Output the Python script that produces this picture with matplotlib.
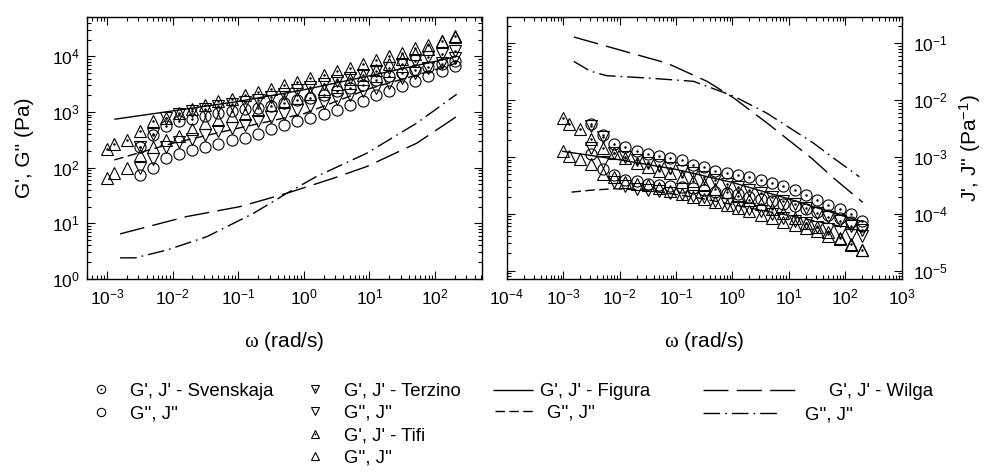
import matplotlib
matplotlib.use("Agg")
import matplotlib.pyplot as plt
from matplotlib.legend_handler import HandlerTuple
from matplotlib.ticker import FixedLocator, LogLocator, NullFormatter

plt.rcParams['font.family'] = ['Liberation Sans', 'DejaVu Sans']
plt.rcParams['mathtext.fontset'] = 'custom'
plt.rcParams['mathtext.rm'] = 'Liberation Sans'
plt.rcParams['mathtext.it'] = 'Liberation Sans:italic'
plt.rcParams['mathtext.bf'] = 'Liberation Sans:bold'
plt.rcParams['mathtext.sf'] = 'Liberation Serif'
plt.rcParams['mathtext.default'] = 'regular'

# ---------------- data ----------------
OMEGA = [0.001, 0.00126, 0.002, 0.00316, 0.005, 0.00794, 0.0126, 0.02, 0.0316,
         0.05, 0.0794, 0.126, 0.2, 0.316, 0.5, 0.794, 1.26, 2.0, 3.16, 5.0,
         7.94, 12.6, 20.0, 31.6, 50.0, 79.4, 126.0, 200.0]
OMEGA_S = OMEGA[3:]   # Svenskaja and Terzino start at 3.16e-3 rad/s

# major tick positions
L_XTICKS = [1e-3, 1e-2, 1e-1, 1e0, 1e1, 1e2]
L_YTICKS = [1e0, 1e1, 1e2, 1e3, 1e4]
R_XTICKS = [1e-4, 1e-3, 1e-2, 1e-1, 1e0, 1e1, 1e2, 1e3]
R_YTICKS = [1e-5, 1e-4, 1e-3, 1e-2, 1e-1]

# left panel: moduli (Pa)
svenskaja_Gp = [240, 389, 550, 676, 759, 851, 955, 1047, 1122, 1202, 1288, 1445, 1660,
                1778, 2042, 2344, 2692, 3090, 3715, 4365, 5012, 5754, 6457, 7244, 8128]
svenskaja_Gpp = [74.1, 100, 151, 174, 209, 234, 269, 316, 347, 407, 490, 589, 676, 776,
                 912, 1096, 1349, 1585, 1995, 2399, 2884, 3631, 4365, 5370, 6607]
terzino_Gp = [240, 398, 776, 933, 1047, 1148, 1259, 1380, 1514, 1660, 1862, 2138, 2455,
              2818, 3162, 3548, 4074, 4677, 5370, 6166, 7244, 8318, 9550, 10960, 12590]
terzino_Gpp = [97.7, 145, 240, 295, 324, 389, 447, 513, 589, 676, 813, 912, 1096, 1259,
               1445, 1698, 1995, 2344, 2754, 3311, 4074, 5012, 6166, 7586, 9333]
tifi_Gp = [214, 263, 316, 457, 676, 794, 977, 1122, 1318, 1549, 1698, 2042, 2291, 2570,
           3090, 3467, 4074, 4677, 5370, 6310, 7244, 8710, 10000, 11480, 14130, 16220,
           19050, 22910]
tifi_Gpp = [64.6, 79.4, 100, 170, 234, 316, 372, 490, 631, 724, 832, 933, 1072, 1318,
            1549, 1820, 2138, 2630, 3236, 3981, 4677, 5754, 7413, 9120, 10960, 13800,
            18620, 22390]

figura_w = [0.00129, 0.01, 0.1, 1.0, 10.0, 100.0, 214.0]
figura_Gp = [741, 1047, 1549, 2512, 4467, 8128, 10000]
figura_Gpp = [138, 275, 513, 933, 2630, 5754, 7586]

wilga_Gp_w = [0.00158, 0.0162, 0.107, 0.55, 2.82, 9.12, 52.5, 214.0]
wilga_Gp = [6.46, 13.2, 20.0, 34.7, 64.6, 105, 275, 832]
wilga_Gpp_w = [0.00158, 0.00269, 0.00813, 0.0331, 0.170, 0.550, 1.55, 9.12, 52.5, 214.0]
wilga_Gpp = [2.40, 2.40, 3.31, 5.75, 15.1, 34.7, 69.2, 182, 631, 2089]

# right panel: compliances (1/Pa)
svenskaja_Jp = [3.80e-3, 2.45e-3, 1.70e-3, 1.51e-3, 1.26e-3, 1.12e-3, 1.05e-3, 9.55e-4,
                8.71e-4, 7.24e-4, 6.76e-4, 5.75e-4, 5.13e-4, 4.79e-4, 4.37e-4, 3.98e-4,
                3.47e-4, 3.02e-4, 2.57e-4, 2.14e-4, 1.74e-4, 1.445e-4, 1.20e-4, 9.77e-5,
                7.59e-5]
svenskaja_Jpp = [1.12e-3, 6.03e-4, 4.79e-4, 3.98e-4, 3.72e-4, 3.39e-4, 3.24e-4, 3.02e-4,
                 2.95e-4, 2.82e-4, 2.63e-4, 2.45e-4, 2.34e-4, 2.19e-4, 2.00e-4, 1.82e-4,
                 1.66e-4, 1.48e-4, 1.35e-4, 1.20e-4, 1.07e-4, 9.55e-5, 8.32e-5, 7.08e-5,
                 6.03e-5]
terzino_Jp = [3.55e-3, 2.24e-3, 1.175e-3, 9.77e-4, 8.71e-4, 7.76e-4, 7.08e-4, 6.31e-4,
              5.75e-4, 5.13e-4, 4.47e-4, 3.98e-4, 3.39e-4, 2.95e-4, 2.63e-4, 2.29e-4,
              2.00e-4, 1.70e-4, 1.48e-4, 1.26e-4, 1.05e-4, 8.91e-5, 7.41e-5, 6.17e-5,
              5.13e-5]
terzino_Jpp = [1.445e-3, 8.13e-4, 3.63e-4, 3.09e-4, 2.69e-4, 2.63e-4, 2.51e-4, 2.34e-4,
               2.24e-4, 2.09e-4, 1.95e-4, 1.70e-4, 1.51e-4, 1.32e-4, 1.20e-4, 1.096e-4,
               9.77e-5, 8.51e-5, 7.59e-5, 6.76e-5, 5.89e-5, 5.37e-5, 4.79e-5, 4.27e-5,
               3.98e-5]
tifi_Jp = [4.79e-3, 3.80e-3, 3.09e-3, 2.09e-3, 1.41e-3, 1.15e-3, 9.55e-4, 7.94e-4,
           6.61e-4, 5.62e-4, 5.13e-4, 4.37e-4, 3.80e-4, 3.31e-4, 2.75e-4, 2.40e-4,
           2.04e-4, 1.74e-4, 1.48e-4, 1.20e-4, 1.05e-4, 8.51e-5, 6.92e-5, 5.75e-5,
           4.68e-5, 3.80e-5, 2.95e-5, 2.34e-5]
tifi_Jpp = [1.29e-3, 1.05e-3, 9.12e-4, 7.41e-4, 5.01e-4, 4.37e-4, 3.55e-4, 3.31e-4,
            3.16e-4, 2.82e-4, 2.51e-4, 2.24e-4, 2.00e-4, 1.82e-4, 1.62e-4, 1.445e-4,
            1.26e-4, 1.096e-4, 9.55e-5, 8.32e-5, 7.24e-5, 6.31e-5, 5.50e-5, 4.90e-5,
            4.07e-5, 3.55e-5, 2.82e-5, 2.34e-5]

figura_Jp_w = [0.000955, 0.01, 0.1, 1.0, 10.0, 100.0, 204.0]
figura_Jp = [1.259e-3, 8.91e-4, 6.03e-4, 3.55e-4, 1.82e-4, 8.91e-5, 7.24e-5]
figura_Jpp_w = [0.00141, 0.00316, 0.00794, 0.0251, 0.1, 0.316, 1.0, 10.0, 100.0, 204.0]
figura_Jpp = [2.40e-4, 2.60e-4, 2.75e-4, 2.63e-4, 2.19e-4, 1.82e-4, 1.445e-4, 9.33e-5,
              5.75e-5, 4.79e-5]

wilga_Jp_w = [0.00155, 0.0155, 0.0692, 0.355, 1.047, 4.07, 25.1, 61.7, 204.0]
wilga_Jp = [0.1288, 0.0676, 0.0447, 0.0214, 0.01096, 3.98e-3, 9.55e-4, 4.27e-4, 1.585e-4]
wilga_Jpp_w = [0.00155, 0.00302, 0.00589, 0.0302, 0.204, 1.047, 4.07, 27.5, 61.7, 178.0]
wilga_Jpp = [0.0479, 0.0324, 0.0269, 0.0245, 0.0214, 0.01175, 5.89e-3, 1.74e-3,
             9.55e-4, 4.47e-4]

# ---------------- styles ----------------
MS = 8
MEW = 0.8
DOT_MS = 1.8
LW = 1.0
LONG = (18, 6)
DASHDOT = (12, 3.6, 1.2, 3.6)
SHORT = (6.8, 3.2)
FS_TICK = 12.5
FS_LABEL = 15
FS_LEG = 13.4

fig = plt.figure(figsize=(9.84, 4.75), dpi=100)
W, H = 984.0, 475.0
axL = fig.add_axes([87 / W, 1 - 279 / H, 395 / W, 262 / H])
axR = fig.add_axes([506.7 / W, 1 - 279 / H, 395 / W, 262 / H])


def open_marker(ax, x, y, m):
    return ax.plot(x, y, linestyle='none', marker=m, ms=MS, mfc='none', mec='black',
                   mew=MEW, zorder=3)[0]


def dotted_marker(ax, x, y, m):
    a = open_marker(ax, x, y, m)
    b = ax.plot(x, y, linestyle='none', marker='o', ms=DOT_MS, mfc='black', mec='black',
                mew=0, zorder=3)[0]
    return (a, b)


def line(ax, x, y, dashes=None):
    if dashes is None:
        return ax.plot(x, y, color='black', lw=LW, solid_capstyle='butt', zorder=2)[0]
    return ax.plot(x, y, color='black', lw=LW, dashes=dashes, dash_capstyle='butt',
                   zorder=2)[0]


# left panel
h_sv_p = dotted_marker(axL, OMEGA_S, svenskaja_Gp, 'o')
h_sv_pp = open_marker(axL, OMEGA_S, svenskaja_Gpp, 'o')
h_te_p = dotted_marker(axL, OMEGA_S, terzino_Gp, 'v')
h_te_pp = open_marker(axL, OMEGA_S, terzino_Gpp, 'v')
h_ti_p = dotted_marker(axL, OMEGA, tifi_Gp, '^')
h_ti_pp = open_marker(axL, OMEGA, tifi_Gpp, '^')
h_fi_p = line(axL, figura_w, figura_Gp)
h_fi_pp = line(axL, figura_w, figura_Gpp, SHORT)
h_wi_p = line(axL, wilga_Gp_w, wilga_Gp, LONG)
h_wi_pp = line(axL, wilga_Gpp_w, wilga_Gpp, DASHDOT)

# right panel
dotted_marker(axR, OMEGA_S, svenskaja_Jp, 'o')
open_marker(axR, OMEGA_S, svenskaja_Jpp, 'o')
dotted_marker(axR, OMEGA_S, terzino_Jp, 'v')
open_marker(axR, OMEGA_S, terzino_Jpp, 'v')
dotted_marker(axR, OMEGA, tifi_Jp, '^')
open_marker(axR, OMEGA, tifi_Jpp, '^')
line(axR, figura_Jp_w, figura_Jp)
line(axR, figura_Jpp_w, figura_Jpp, SHORT)
line(axR, wilga_Jp_w, wilga_Jp, LONG)
line(axR, wilga_Jpp_w, wilga_Jpp, DASHDOT)

axL.set_xscale('log')
axL.set_yscale('log')
axR.set_xscale('log')
axR.set_yscale('log')
axL.set_xlim(4.95e-4, 520)
axL.set_ylim(1, 5.1e4)
axR.set_xlim(1e-4, 1e3)
axR.set_ylim(7.1e-6, 0.29)

for ax, xt, yt in ((axL, L_XTICKS, L_YTICKS), (axR, R_XTICKS, R_YTICKS)):
    ax.xaxis.set_major_locator(FixedLocator(xt))
    ax.yaxis.set_major_locator(FixedLocator(yt))
    ax.xaxis.set_minor_locator(LogLocator(base=10, subs=range(2, 10), numticks=50))
    ax.yaxis.set_minor_locator(LogLocator(base=10, subs=range(2, 10), numticks=50))
    ax.xaxis.set_minor_formatter(NullFormatter())
    ax.yaxis.set_minor_formatter(NullFormatter())
    for s in ax.spines.values():
        s.set_linewidth(1.0)
    ax.tick_params(which='both', direction='in', top=True, right=True, left=True,
                   bottom=True, width=0.8, labelsize=FS_TICK)
    ax.tick_params(which='major', length=5.5)
    ax.tick_params(which='minor', length=3)
    ax.tick_params(axis='x', which='major', pad=6)

axL.tick_params(axis='y', which='major', pad=5)
axR.tick_params(axis='y', labelleft=False, labelright=True)
axR.tick_params(axis='y', which='major', pad=8)

axL.set_xlabel(r'$\mathsf{\omega}$ (rad/s)', fontsize=FS_LABEL)
axR.set_xlabel(r'$\mathsf{\omega}$ (rad/s)', fontsize=FS_LABEL)
for ax in (axL, axR):
    ax.xaxis.label.set_va('center')
    ax.xaxis.set_label_coords(0.5, (279 - 341.7) / 262)

axL.set_ylabel("G', G'' (Pa)", fontsize=FS_LABEL)
axL.yaxis.label.set_va('center')
axL.yaxis.set_label_coords((24 - 87) / 395, 0.5)

axR.yaxis.set_label_position('right')
axR.set_ylabel(r"J', J'' (Pa$^{-1}$)", fontsize=FS_LABEL, rotation=90)
axR.yaxis.label.set_va('center')
axR.yaxis.label.set_rotation_mode('anchor')
axR.yaxis.set_label_coords((970.5 - 506.7) / 395, 0.5)

# ---------------- legends ----------------
F_PX = FS_LEG * 100 / 72.0
common = dict(frameon=False, fontsize=FS_LEG, borderpad=0, borderaxespad=0,
              handler_map={tuple: HandlerTuple(ndivide=1)}, markerscale=0.75,
              labelspacing=0.27, loc='center left')


def add_leg(handles, labels, left_px, center_px, hl, pad):
    lg = fig.legend(handles, labels, bbox_to_anchor=(left_px / W, 1 - center_px / H),
                    handlelength=hl, handletextpad=pad, **common)
    return lg


hl_m = 1.0
pad_m = (130 - 101 - 0.5 * hl_m * F_PX) / F_PX
add_leg([h_sv_p, h_sv_pp], ["G', J' - Svenskaja", "G'', J''"],
        101 - 0.5 * hl_m * F_PX, 402.5, hl_m, pad_m)
add_leg([h_te_p, h_te_pp, h_ti_p, h_ti_pp],
        ["G', J' - Terzino", "G'', J''", "G', J' - Tifi", "G'', J''"],
        315 - 0.5 * hl_m * F_PX, 424.5, hl_m, pad_m)
add_leg([h_fi_p], ["G', J' - Figura"], 493, 391.7, 40 / F_PX, 7 / F_PX)
add_leg([h_fi_pp], ["G'', J''"], 495, 413.3, 38 / F_PX, 14 / F_PX)
add_leg([h_wi_p], ["G', J' - Wilga"], 703, 391.7, 92 / F_PX, 34 / F_PX)
add_leg([h_wi_pp], ["G'', J''"], 703, 414.5, 77 / F_PX, 25 / F_PX)

fig.savefig('out.png', dpi=100)
